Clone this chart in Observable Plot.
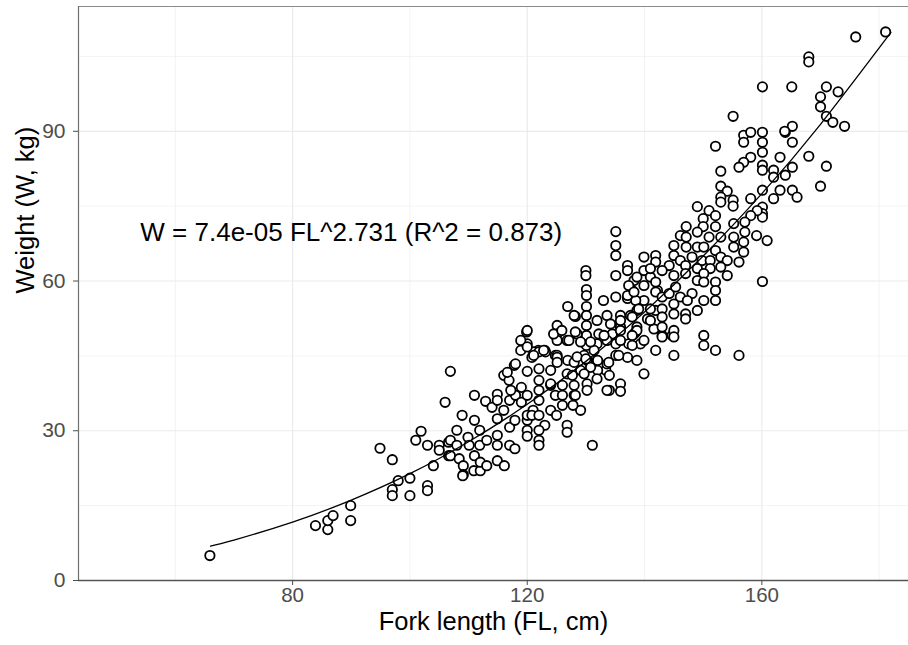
<!DOCTYPE html>
<html>
<head>
<meta charset="utf-8">
<script src="https://cdn.jsdelivr.net/npm/d3@7"></script>
<script src="https://cdn.jsdelivr.net/npm/@observablehq/plot@0.6"></script>
<style>
  html, body { margin: 0; padding: 0; background: white; }
  #chart svg { display: block; }
</style>
</head>
<body>
<div id="chart"></div>
<script>
const fl = [
  65.9,83.9,86.0,86.0,86.9,89.9,89.9,94.9,97.0,97.0,97.0,98.0,100.0,100.0,101.0,101.9,103.0,103.0,103.0,104.0,105.0,105.0,106.0,106.6,106.6,
  106.9,106.9,106.9,108.0,108.0,108.4,108.9,109.1,109.1,109.9,110.1,111.0,111.0,111.0,110.9,111.9,111.9,112.0,112.0,112.9,113.1,113.1,114.0,114.9,114.9,114.9,114.9,114.9,114.9,
  116.0,116.1,116.0,116.9,117.0,117.0,117.0,117.8,117.9,117.9,118.0,118.9,119.0,119.0,120.0,120.0,120.0,120.0,120.0,120.0,119.9,120.8,121.0,121.9,122.0,122.0,122.0,122.0,122.0,
  123.0,123.0,124.0,124.0,124.0,124.8,124.8,124.8,125.0,
  109.0,120.0,120.8,122.0,122.0,126.0,126.8,126.8,129.1,127.8,131.1,
  135.1,135.1,135.1,137.1,137.1,135.1,135.1,130.0,130.0,130.1,130.1,130.1,130.1,130.1,130.1,130.1,133.0,126.9,120.0,118.9,139.9,141.9,141.9,139.9,141.0,138.2,137.9,142.2,139.9,137.1,138.7,141.9,
  125.1,128.2,131.9,133.6,135.9,137.6,140.5,134.5,132.2,138.2,141.6,141.9,139.9,137.1,135.1,135.1,133.6,131.9,131.9,133.4,126.8,125.1,126.9,123.1,121.1,118.0,129.1,130.2,131.4,128.5,125.1,138.7,135.9,122.0,120.0,
  135.9,135.9,134.0,134.0,132.0,132.0,130.2,130.2,128.0,128.0,126.0,126.0,125.1,126.8,128.0,129.7,130.8,133.6,138.7,137.3,139.3,143.0,144.7,129.1,127.1,133.1,125.1,
  138.5,128.0,124.5,125.9,128.2,134.2,138.5,130.8,121.1,122.8,125.1,128.5,130.0,133.9,135.6,116.6,122.0,127.7,129.7,131.9,124.0,133.6,117.2,128.2,137.1,
  155.1,152.1,156.9,156.9,158.1,160.1,160.1,160.1,164.0,165.2,165.2,158.1,156.9,156.1,163.1,168.0,160.1,160.1,165.2,162.0,162.0,164.0,153.0,153.0,154.1,153.0,153.0,155.1,155.1,
  160.1,163.1,165.2,166.0,162.0,158.1,170.0,160.1,160.1,160.1,159.2,158.1,149.0,151.0,152.1,150.0,155.2,157.1,157.1,159.1,160.9,147.1,150.0,152.1,146.1,147.1,149.0,151.0,153.0,155.2,155.2,
  156.9,156.9,156.1,160.1,145.0,147.1,149.0,150.1,152.1,153.0,154.1,154.1,153.0,145.0,146.1,148.1,149.8,151.2,144.2,147.0,149.0,151.2,138.7,141.0,143.0,145.0,147.0,149.0,150.1,150.1,
  152.1,152.1,152.1,150.1,149.0,137.3,138.2,139.9,141.9,141.9,143.0,144.2,145.3,146.1,148.1,147.3,145.0,143.0,141.0,139.0,137.9,141.0,143.0,145.0,145.0,147.0,147.0,135.9,135.9,135.9,
  138.7,143.0,137.9,139.9,137.9,143.0,145.0,150.1,150.1,152.1,156.1,145.0,
  181.1,176.0,168.0,168.0,160.1,165.1,171.0,173.0,170.0,170.0,171.0,172.1,174.1,163.9,171.0
];
const w = [
  5.0,11.0,10.2,12.0,13.0,15.0,12.0,26.5,24.2,18.2,17.0,20.0,20.5,17.0,28.1,29.9,27.1,19.0,18.0,23.0,27.1,26.1,35.7,27.7,25.0,
  41.9,28.1,25.0,30.1,27.1,24.4,33.1,23.0,21.2,28.7,27.1,32.1,37.1,25.0,22.0,30.1,27.1,22.0,23.7,35.9,28.1,23.0,34.7,37.3,36.1,32.4,29.1,27.1,24.0,
  34.1,23.0,41.1,40.1,36.1,30.7,27.1,43.1,32.1,26.4,37.1,46.1,38.7,35.7,47.4,41.9,37.1,32.1,30.1,28.9,49.8,44.7,34.1,46.1,40.1,38.1,36.1,28.1,27.1,
  46.1,31.1,42.1,39.1,34.1,49.1,45.1,37.1,33.1,
  21.0,33.1,33.1,33.1,30.1,35.1,31.1,29.7,34.1,35.1,27.1,
  69.9,67.1,65.1,63.1,62.1,61.1,56.8,62.1,61.1,58.3,57.1,54.9,53.1,51.1,49.1,47.1,56.1,54.9,50.1,48.1,64.8,65.1,63.8,62.1,60.8,60.1,58.1,58.1,56.1,56.5,54.1,54.1,
  51.1,52.9,52.1,53.1,53.1,53.1,52.4,49.4,49.4,49.4,50.4,46.1,41.4,44.7,47.4,45.1,48.1,47.4,44.1,42.1,48.1,45.1,44.1,45.8,45.8,43.4,42.1,44.1,46.1,49.4,49.4,50.8,50.8,45.8,46.8,
  39.4,37.9,38.1,41.1,42.1,44.1,39.4,38.1,39.1,37.1,37.1,39.1,44.7,41.4,43.7,45.1,42.7,43.4,44.1,47.4,47.4,49.1,49.1,47.8,48.1,49.1,48.1,
  56.1,53.1,49.4,50.1,49.8,51.4,49.8,47.8,45.1,46.1,43.7,44.8,44.4,43.7,45.1,41.7,42.4,41.1,41.4,40.4,39.4,38.1,38.1,37.1,57.1,
  93.0,87.0,89.2,87.8,89.8,89.8,87.8,85.8,89.8,91.0,87.8,84.8,83.8,82.8,84.8,85.0,83.2,82.2,82.8,82.2,80.8,81.2,82.0,79.0,78.0,76.8,75.8,76.2,75.0,
  78.2,78.2,78.2,76.8,76.5,76.5,79.0,74.8,73.5,72.8,74.1,73.1,74.9,74.1,73.1,72.5,71.5,71.8,69.8,69.1,68.1,70.9,70.9,70.9,69.1,68.8,69.8,68.8,68.8,68.8,66.8,
  67.8,65.8,63.8,59.9,67.1,66.8,66.8,66.8,66.1,64.8,64.1,61.1,62.8,65.1,64.1,64.8,64.1,64.1,63.1,63.1,62.5,62.5,60.8,62.5,62.1,61.1,61.5,60.1,61.5,59.8,
  59.8,58.1,56.1,56.1,54.1,59.1,57.8,59.1,59.8,57.8,56.8,57.5,58.8,56.8,57.5,56.1,55.4,54.4,54.4,54.4,52.8,52.1,52.8,53.4,50.1,53.4,52.4,52.1,50.1,48.1,
  50.1,50.8,49.1,48.1,47.1,48.8,48.8,49.1,47.1,46.1,45.1,45.1,
  109.9,108.9,104.9,103.9,98.9,98.9,98.9,97.9,96.9,94.9,93.0,91.8,91.0,90.0,83.0
];

// Fitted power curve W = 7.4e-05 FL^2.731
const curveFL = [66, 70, 80, 90, 100, 110, 120, 130, 140, 150, 160, 170, 182];
const curveW  = [6.9, 8.1, 11.7, 16.1, 21.4, 27.8, 35.3, 43.9, 53.8, 65.0, 77.5, 91.4, 109.8];

const xTicks = [80, 120, 160];
const xMinor = [60, 100, 140, 180];
const yTicks = [0, 30, 60, 90];
const yMinor = [15, 45, 75, 105];

const xDomain = [43.5, 185];
const yDomain = [0, 115];

const equation = "W = 7.4e-05 FL^2.731 (R^2 = 0.873)";
const xTitle = "Fork length (FL, cm)";
const yTitle = "Weight (W, kg)";

const points = fl.map((x, i) => ({x, y: w[i]}));
const fit = curveFL.map((x, i) => ({x, y: curveW[i]}));

const chart = Plot.plot({
  width: 908,
  height: 645,
  marginLeft: 78,
  marginRight: 0,
  marginTop: 6,
  marginBottom: 65,
  style: {fontFamily: "'Liberation Sans', Arial, Helvetica, sans-serif", background: "white"},
  x: {domain: xDomain},
  y: {domain: yDomain},
  marks: [
    Plot.gridX(xMinor, {stroke: "#EBEBEB", strokeOpacity: 1, strokeWidth: 0.6}),
    Plot.gridY(yMinor, {stroke: "#EBEBEB", strokeOpacity: 1, strokeWidth: 0.6}),
    Plot.gridX(xTicks, {stroke: "#EBEBEB", strokeOpacity: 1, strokeWidth: 1.2}),
    Plot.gridY(yTicks, {stroke: "#EBEBEB", strokeOpacity: 1, strokeWidth: 1.2}),
    Plot.frame({stroke: "#8a8a8a", strokeWidth: 1}),
    Plot.ruleX([xDomain[0]], {stroke: "#6e6e6e", strokeWidth: 1.2}),
    Plot.ruleY([yDomain[0]], {stroke: "#555555", strokeWidth: 1.6}),
    Plot.axisX(xTicks, {tickSize: 5, tickPadding: 2, fontSize: 20.5, color: "#4D4D4D", label: null}),
    Plot.axisY(yTicks, {tickSize: 5, tickPadding: 8, fontSize: 21, color: "#4D4D4D", label: null}),
    Plot.dot(points, {x: "x", y: "y", r: 4.7, fill: "white", stroke: "black", strokeWidth: 1.8}),
    Plot.line(fit, {x: "x", y: "y", curve: "natural", stroke: "black", strokeWidth: 1.3}),
    Plot.text([equation], {x: 90, y: 70, text: d => d, fontSize: 26, fill: "black", dy: 2}),
    Plot.text([xTitle], {frameAnchor: "bottom", text: d => d, dy: 49, fontSize: 25.5, fill: "black"}),
    Plot.text([yTitle], {frameAnchor: "left", text: d => d, rotate: -90, dx: -53, fontSize: 25.5, fill: "black"})
  ]
});
document.getElementById("chart").appendChild(chart);
</script>
</body>
</html>
